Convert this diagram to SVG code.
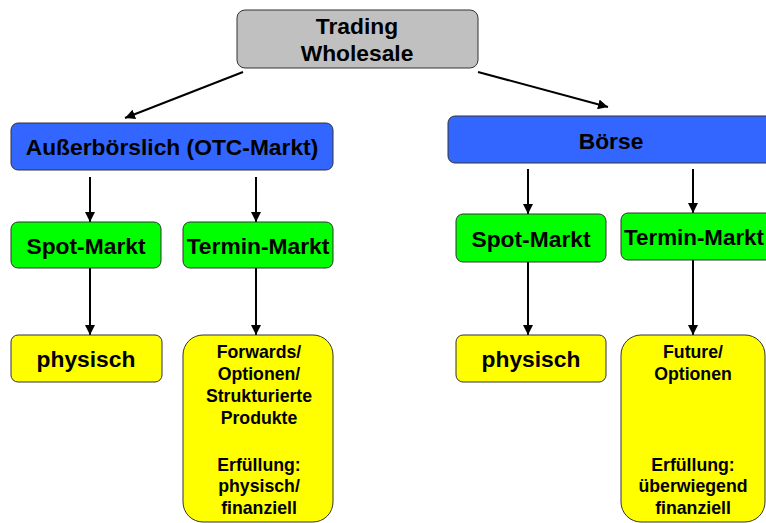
<svg xmlns="http://www.w3.org/2000/svg" width="766" height="523" viewBox="0 0 766 523">
<defs>
<marker id="ah" viewBox="0 0 10 10" refX="10" refY="5" markerWidth="10" markerHeight="10" markerUnits="userSpaceOnUse" orient="auto">
<path d="M0,0 L10,5 L0,10 z" fill="#000"/>
</marker>
<style>
text{font-family:"Liberation Sans",Arial,sans-serif;font-weight:bold;fill:#000;text-anchor:middle}
.big{font-size:22.8px}
.sm{font-size:17.7px}
.box{stroke:#333;stroke-width:1}
.grey{fill:#C0C0C0}
.blue{fill:#3366FF}
.green{fill:#00FF00}
.yellow{fill:#FFFF00}
.con line{stroke:#000;stroke-width:2;marker-end:url(#ah)}
</style>
</defs>
<rect width="766" height="523" fill="#fff"/>
<g class="con" id="connectors">
<line x1="243" y1="72" x2="125" y2="118"/>
<line x1="478" y1="72" x2="608" y2="107"/>
<line x1="90" y1="177" x2="90" y2="222"/>
<line x1="256" y1="177" x2="256" y2="222"/>
<line x1="528" y1="169" x2="528" y2="214"/>
<line x1="693" y1="169" x2="693" y2="213"/>
<line x1="90" y1="268" x2="90" y2="335"/>
<line x1="256" y1="268" x2="256" y2="335"/>
<line x1="528" y1="262" x2="528" y2="335"/>
<line x1="693" y1="260" x2="693" y2="335"/>
</g>
<g id="trading">
<rect class="box grey" x="237" y="10" width="241" height="58" rx="8"/>
<text class="big" x="357" y="34">Trading</text>
<text class="big" x="357" y="61">Wholesale</text>
</g>
<g id="otc">
<rect class="box blue" x="11" y="123" width="322" height="47" rx="7"/>
<text class="big" x="172" y="155">Außerbörslich (OTC-Markt)</text>
</g>
<g id="boerse">
<rect class="box blue" x="448" y="116" width="330" height="47" rx="7"/>
<text class="big" x="611" y="149">Börse</text>
</g>
<g id="otc-spot">
<rect class="box green" x="11" y="222" width="150" height="46" rx="7"/>
<text class="big" x="86" y="254">Spot-Markt</text>
</g>
<g id="otc-termin">
<rect class="box green" x="183" y="222" width="150" height="46" rx="7"/>
<text class="big" x="258" y="254">Termin-Markt</text>
</g>
<g id="b-spot">
<rect class="box green" x="456" y="214" width="150" height="48" rx="7"/>
<text class="big" x="531" y="247">Spot-Markt</text>
</g>
<g id="b-termin">
<rect class="box green" x="621" y="213" width="160" height="47" rx="7"/>
<text class="big" x="624" y="245" style="text-anchor:start" textLength="140" lengthAdjust="spacingAndGlyphs">Termin-Markt</text>
</g>
<g id="otc-physisch">
<rect class="box yellow" x="11" y="335" width="151" height="47" rx="7"/>
<text class="big" x="86" y="367">physisch</text>
</g>
<g id="b-physisch">
<rect class="box yellow" x="456" y="335" width="150" height="47" rx="7"/>
<text class="big" x="531" y="367">physisch</text>
</g>
<g id="otc-products">
<rect class="box yellow" x="183" y="335" width="150" height="187" rx="20"/>
<text class="sm" x="259" y="358">Forwards/</text>
<text class="sm" x="259" y="380">Optionen/</text>
<text class="sm" x="259" y="402">Strukturierte</text>
<text class="sm" x="259" y="424">Produkte</text>
<text class="sm" x="259" y="471">Erfüllung:</text>
<text class="sm" x="259" y="492">physisch/</text>
<text class="sm" x="259" y="514">finanziell</text>
</g>
<g id="b-products">
<rect class="box yellow" x="621" y="335" width="144" height="187" rx="20"/>
<text class="sm" x="693" y="358">Future/</text>
<text class="sm" x="693" y="380">Optionen</text>
<text class="sm" x="693" y="471">Erfüllung:</text>
<text class="sm" x="693" y="492">überwiegend</text>
<text class="sm" x="693" y="514">finanziell</text>
</g>
</svg>
